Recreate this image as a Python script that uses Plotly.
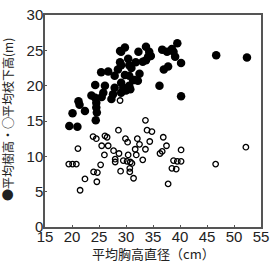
import plotly.graph_objects as go

# Filled: mean tree height (m) vs mean DBH (cm)
h_x = [19.5, 21.0, 20.1, 21.2, 21.4, 22.4, 23.6, 24.3, 24.5, 24.5, 24.6, 24.4, 24.3, 25.4, 26.7,
       25.8, 25.5, 26.1, 27.6, 27.3, 27.9, 27.9, 28.5, 28.9, 29.1, 29.1, 28.9, 29.8, 29.1, 30.0,
       29.1, 29.5, 29.8, 30.4, 30.6, 30.6, 30.6, 30.8, 31.0, 31.6, 32.2, 31.8, 32.3, 32.5, 33.1,
       33.7, 33.7, 34.3, 34.1, 34.6, 36.7, 37.6, 38.5, 38.8, 39.5, 39.1, 40.2, 37.0, 37.8, 36.2,
       40.2, 46.7, 52.4, 30.4, 31.3]
h_y = [14.3, 14.2, 16.1, 17.8, 17.3, 16.4, 18.6, 18.3, 17.6, 16.9, 16.2, 15.1, 20.1, 21.9, 22.0,
       19.0, 18.4, 20.0, 18.8, 18.1, 19.7, 21.4, 22.3, 23.3, 22.9, 24.8, 24.9, 25.4, 19.0, 19.3,
       20.4, 19.7, 21.5, 23.8, 22.9, 21.4, 20.0, 19.5, 22.5, 20.8, 20.7, 23.3, 24.8, 21.7, 23.4,
       23.6, 25.5, 24.8, 24.1, 24.2, 25.1, 24.8, 25.2, 24.8, 26.0, 24.1, 23.2, 22.3, 22.7, 20.0,
       18.5, 24.3, 24.0, 19.7, 20.8]

# Open: mean height to lowest branch (m)
b_x = [19.4, 20.1, 20.8, 21.1, 21.5, 22.4, 23.9, 24.5, 24.0, 24.7, 24.6, 25.5, 25.3, 26.0, 26.1,
       26.5, 26.7, 27.7, 28.0, 28.0, 28.6, 28.7, 28.9, 29.0, 29.5, 29.9, 30.3, 30.2, 30.4, 30.7,
       30.7, 30.8, 31.1, 31.4, 31.7, 31.9, 32.1, 32.5, 33.1, 33.6, 33.6, 33.9, 34.8, 34.4, 36.3,
       36.7, 36.9, 37.5, 37.8, 38.5, 39.3, 38.8, 39.5, 40.2, 40.2, 46.6, 52.2]
b_y = [8.9, 8.9, 8.9, 11.1, 5.2, 6.8, 12.8, 12.5, 7.8, 7.7, 6.4, 11.5, 8.8, 10.2, 12.9,
       12.7, 11.5, 10.8, 9.6, 9.2, 13.7, 10.4, 17.9, 7.9, 9.4, 12.5, 12.0, 9.3, 10.2, 8.3,
       7.8, 9.2, 9.0, 6.9, 11.0, 10.2, 12.5, 11.7, 9.5, 15.1, 11.0, 13.7, 13.5, 12.1, 10.4,
       10.7, 12.7, 11.5, 6.1, 8.3, 8.2, 9.4, 9.3, 9.3, 10.9, 8.9, 11.3]

x_ticks = [15, 20, 25, 30, 35, 40, 45, 50, 55]
y_ticks = [0, 5, 10, 15, 20, 25, 30]

x_title = "平均胸高直径（cm）"
y_title = "●平均樹高・○平均枝下高(m)"

FONT = "Liberation Sans, Arial, Noto Sans CJK JP"
JP = "Noto Sans CJK JP"

fig = go.Figure()
fig.add_trace(go.Scatter(x=b_x, y=b_y, mode="markers",
                         marker=dict(symbol="circle-open", size=5.5, color="black",
                                     line=dict(width=1.3, color="black"))))
fig.add_trace(go.Scatter(x=h_x, y=h_y, mode="markers",
                         marker=dict(symbol="circle", size=8.5, color="black")))

axis_common = dict(showgrid=False, zeroline=False, showline=True, mirror=True,
                   linecolor="#555555", linewidth=1.5, ticks="inside", ticklen=2,
                   tickcolor="#555555", ticklabeloverflow="allow",
                   tickfont=dict(family=FONT, size=15, color="#222222"))
fig.update_xaxes(range=[15, 55], tickvals=x_ticks, ticktext=[str(t) for t in x_ticks],
                 ticklabelstandoff=-5, **axis_common)
fig.update_yaxes(range=[0, 30], tickvals=y_ticks, ticktext=[str(t) for t in y_ticks],
                 ticklabelstandoff=-3, **axis_common)

fig.add_annotation(text=x_title, xref="paper", yref="paper", x=0.5, y=0,
                   yshift=-38, yanchor="bottom", showarrow=False,
                   font=dict(family=JP, size=13, color="#222222"))
fig.add_annotation(text=y_title, xref="paper", yref="paper", x=0, y=0.505,
                   xshift=-37, xanchor="center", yanchor="middle", textangle=-90, showarrow=False,
                   font=dict(family=JP, size=12, color="#222222"))

fig.update_layout(width=275, height=266, margin=dict(l=45, r=9, t=6, b=39),
                  paper_bgcolor="white", plot_bgcolor="white", showlegend=False)
fig.write_html("out.html")
